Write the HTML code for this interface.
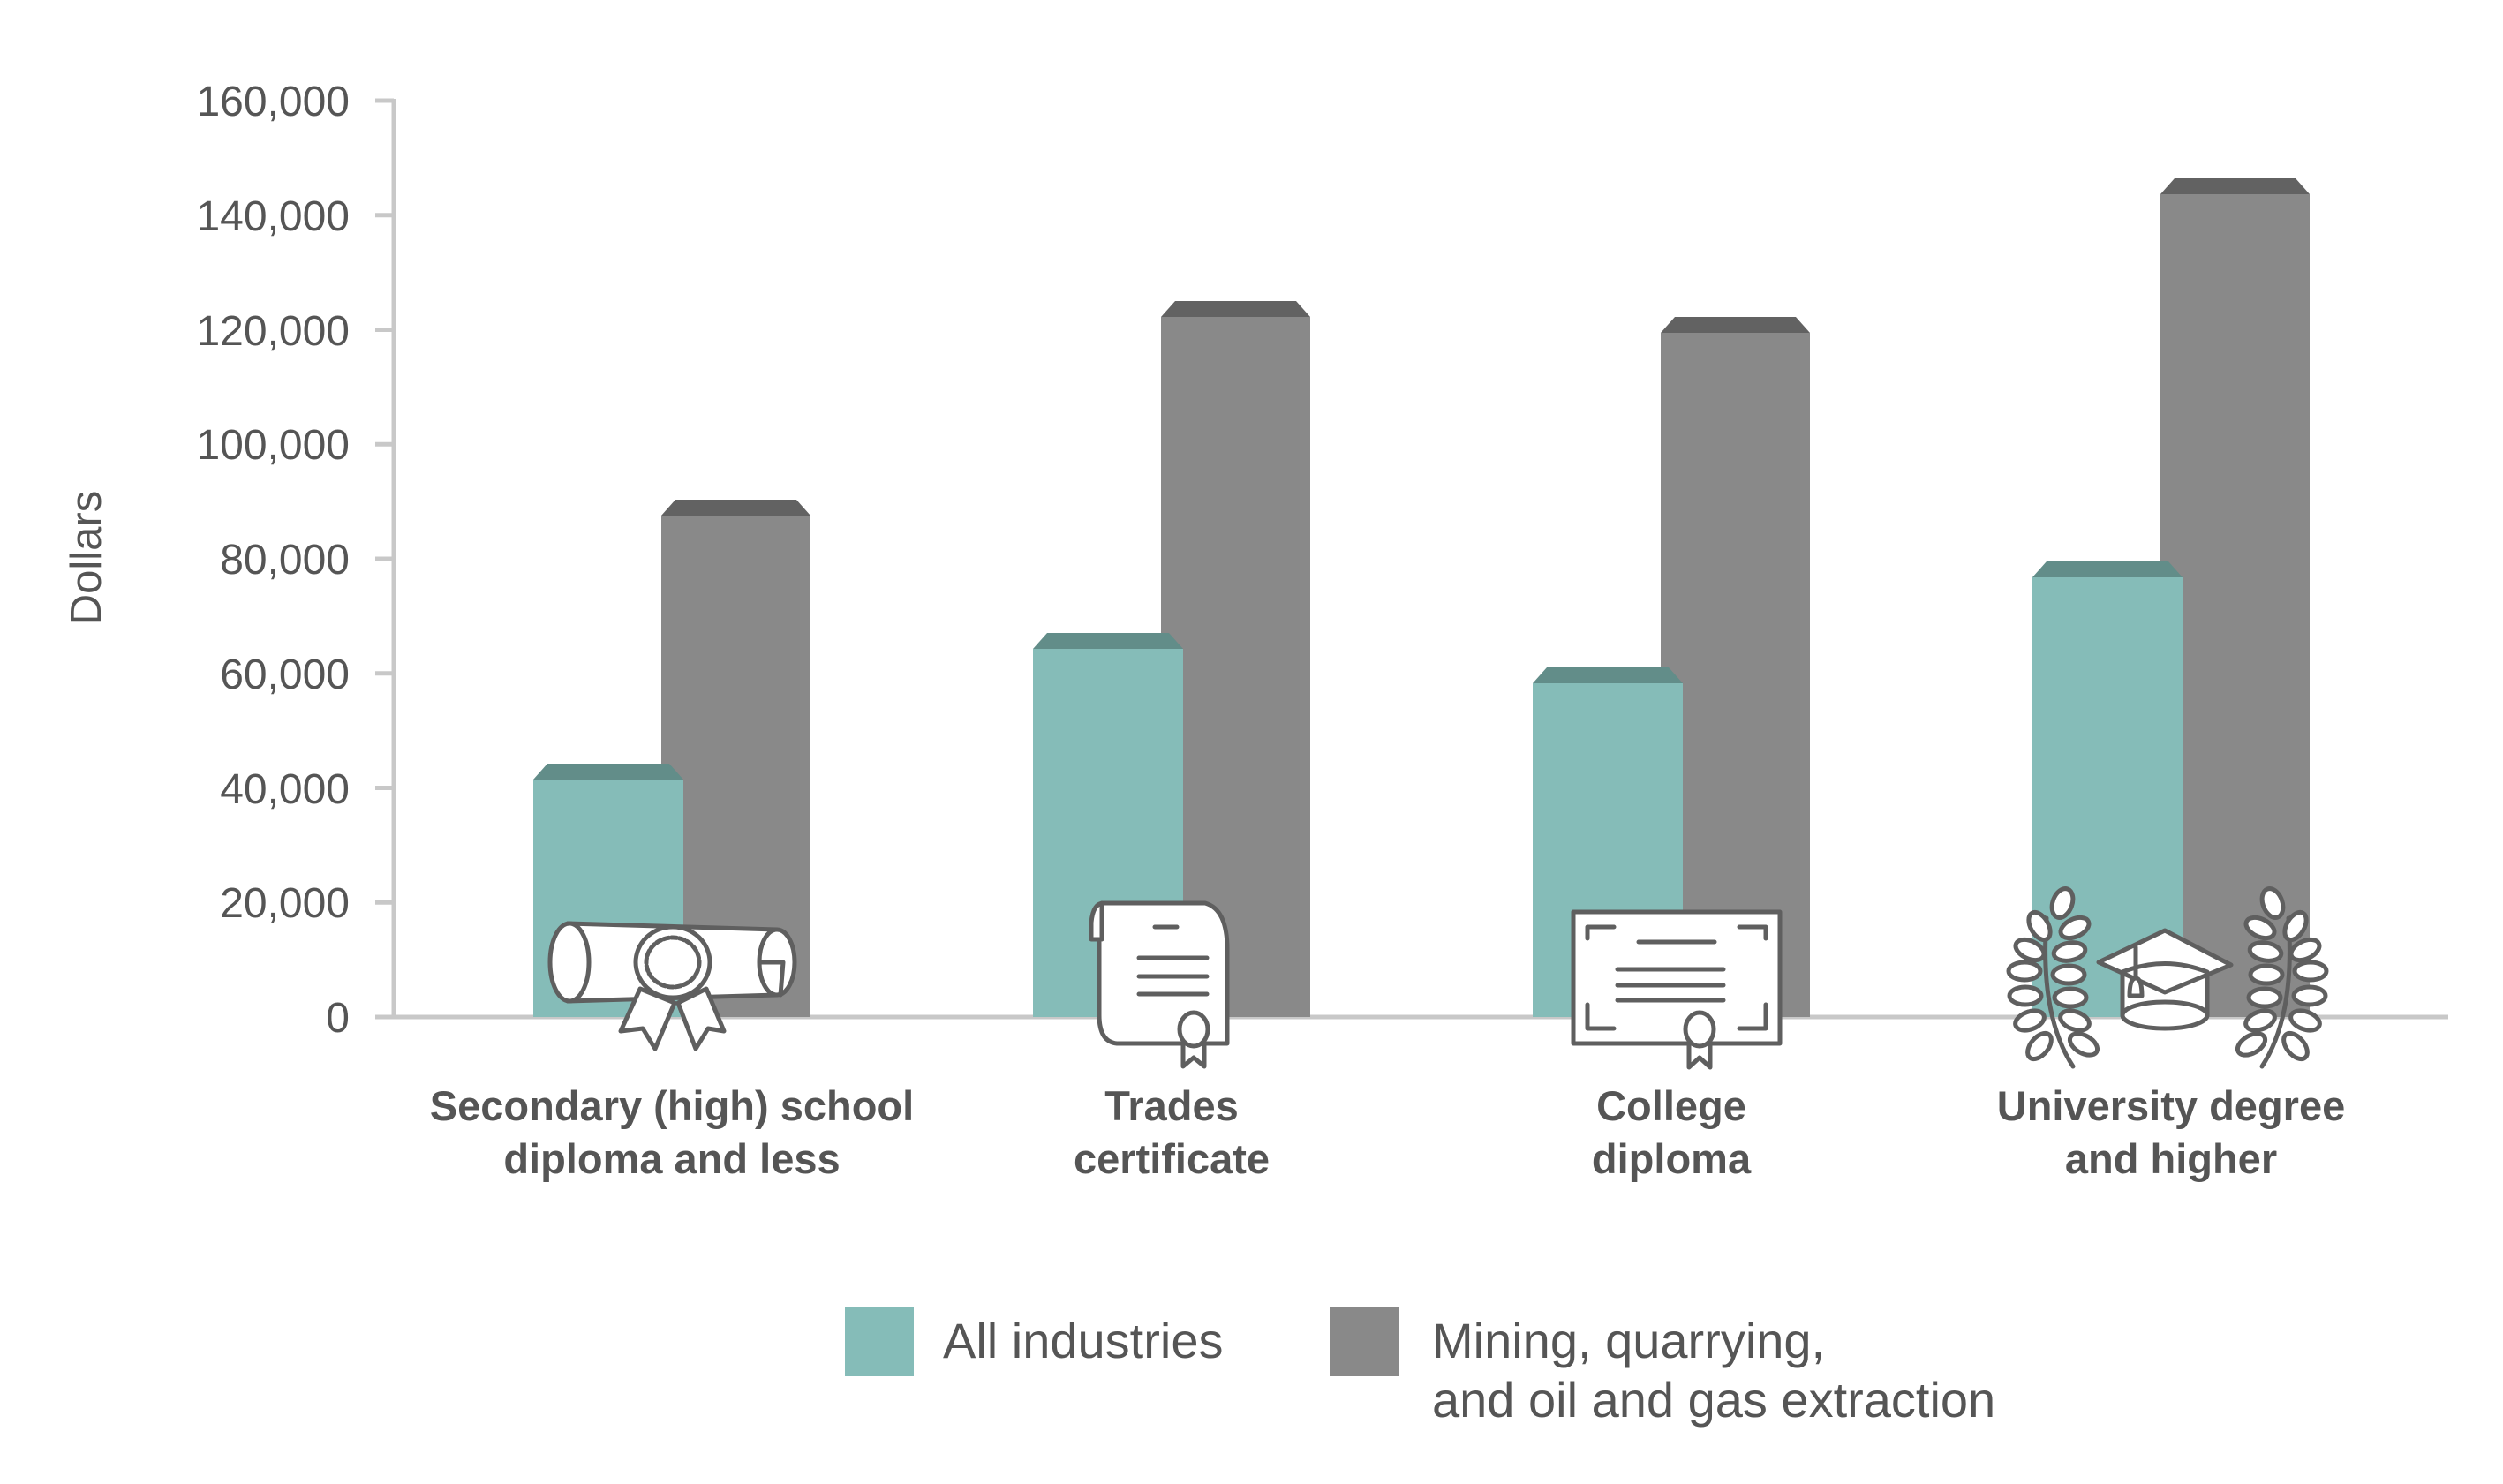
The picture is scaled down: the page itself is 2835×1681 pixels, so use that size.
<!DOCTYPE html>
<html><head><meta charset="utf-8"><style>
html,body{margin:0;padding:0;background:#fff;}
svg{display:block;}
text{font-family:"Liberation Sans",sans-serif;fill:#555;}
</style></head><body>
<svg width="2835" height="1681" viewBox="0 0 2835 1681" xmlns="http://www.w3.org/2000/svg">
<g stroke="#c8c8c8" stroke-width="5" fill="none">
<line x1="446" y1="112" x2="446" y2="1152"/>
<line x1="425" y1="1152" x2="2773" y2="1152"/>
<line x1="425" y1="114" x2="446" y2="114"/>
<line x1="425" y1="243.75" x2="446" y2="243.75"/>
<line x1="425" y1="373.5" x2="446" y2="373.5"/>
<line x1="425" y1="503.25" x2="446" y2="503.25"/>
<line x1="425" y1="633" x2="446" y2="633"/>
<line x1="425" y1="762.75" x2="446" y2="762.75"/>
<line x1="425" y1="892.5" x2="446" y2="892.5"/>
<line x1="425" y1="1022.25" x2="446" y2="1022.25"/>
</g>
<g font-size="48" text-anchor="end">
<text x="396" y="131">160,000</text>
<text x="396" y="261">140,000</text>
<text x="396" y="391">120,000</text>
<text x="396" y="520">100,000</text>
<text x="396" y="650">80,000</text>
<text x="396" y="780">60,000</text>
<text x="396" y="910">40,000</text>
<text x="396" y="1039">20,000</text>
<text x="396" y="1169">0</text>
</g>
<text x="0" y="0" font-size="49" text-anchor="middle" transform="translate(114,632) rotate(-90)">Dollars</text>

<g>
<rect x="749" y="584" width="169" height="568" fill="#898989"/>
<polygon points="749,584 765,566 902,566 918,584" fill="#626262"/>
<rect x="604" y="883" width="170" height="269" fill="#85bcb8"/>
<polygon points="604,883 620,865 758,865 774,883" fill="#628d89"/>
<rect x="1315" y="359" width="169" height="793" fill="#898989"/>
<polygon points="1315,359 1331,341 1468,341 1484,359" fill="#626262"/>
<rect x="1170" y="735" width="170" height="417" fill="#85bcb8"/>
<polygon points="1170,735 1186,717 1324,717 1340,735" fill="#628d89"/>
<rect x="1881" y="377" width="169" height="775" fill="#898989"/>
<polygon points="1881,377 1897,359 2034,359 2050,377" fill="#626262"/>
<rect x="1736" y="774" width="170" height="378" fill="#85bcb8"/>
<polygon points="1736,774 1752,756 1890,756 1906,774" fill="#628d89"/>
<rect x="2447" y="220" width="169" height="932" fill="#898989"/>
<polygon points="2447,220 2463,202 2600,202 2616,220" fill="#626262"/>
<rect x="2302" y="654" width="170" height="498" fill="#85bcb8"/>
<polygon points="2302,654 2318,636 2456,636 2472,654" fill="#628d89"/>
</g>

<g stroke="#5f5f5f" stroke-width="5" fill="#fff" stroke-linejoin="round" stroke-linecap="round">
<path d="M643,1046 L880,1053 L880,1127 L643,1134 Z"/>
<ellipse cx="645" cy="1090" rx="22" ry="44"/>
<ellipse cx="880" cy="1090" rx="20" ry="37"/>
<path d="M862,1090 L887,1090 L884,1127"/>
<polygon points="725,1120 703,1168 728,1165 742,1188 764,1136"/>
<polygon points="768,1136 788,1188 802,1165 820,1168 800,1120"/>
<ellipse cx="762" cy="1090" rx="42" ry="40"/>
<ellipse cx="762" cy="1090" rx="30" ry="28" stroke-dasharray="6 3"/>
<path d="M1250,1023 L1365,1023 Q1390,1030 1390,1075 L1390,1182 L1265,1182 Q1245,1180 1245,1150 L1245,1064 L1236,1064 L1236,1045 Q1238,1023 1250,1023 Z"/>
<line x1="1248" y1="1023" x2="1248" y2="1064"/>
<line x1="1308" y1="1050" x2="1333" y2="1050"/>
<line x1="1290" y1="1085" x2="1367" y2="1085"/>
<line x1="1290" y1="1106" x2="1367" y2="1106"/>
<line x1="1290" y1="1126" x2="1367" y2="1126"/>
<path d="M1340,1180 L1340,1208 L1352,1198 L1364,1208 L1364,1180"/>
<ellipse cx="1352" cy="1166" rx="16" ry="19"/>
<rect x="1782" y="1033" width="234" height="149"/>
<path d="M1798,1063 L1798,1050 L1828,1050 M1970,1050 L2000,1050 L2000,1063 M1798,1138 L1798,1165 L1828,1165 M1970,1165 L2000,1165 L2000,1138" fill="none"/>
<line x1="1856" y1="1067" x2="1942" y2="1067"/>
<line x1="1832" y1="1098" x2="1952" y2="1098"/>
<line x1="1832" y1="1116" x2="1952" y2="1116"/>
<line x1="1832" y1="1133" x2="1952" y2="1133"/>
<path d="M1913,1180 L1913,1209 L1925,1198 L1937,1209 L1937,1180"/>
<ellipse cx="1925" cy="1166" rx="16" ry="19"/>
<path d="M2404,1101 L2404,1150 Q2452,1172 2500,1150 L2500,1101"/>
<ellipse cx="2452" cy="1150" rx="48" ry="15"/>
<polygon points="2377,1090 2452,1054 2527,1093 2452,1124"/>
<path d="M2404,1101 Q2452,1082 2500,1101" fill="none"/>
<line x1="2419" y1="1073" x2="2419" y2="1108"/>
<path d="M2412,1128 Q2412,1108 2419,1108 Q2426,1108 2426,1128 Z"/>
<path d="M2348,1208 Q2310,1150 2318,1040" fill="none"/>
<g>
<ellipse cx="2336" cy="1023" rx="11" ry="17" transform="rotate(20 2336 1023)"/>
<ellipse cx="2310" cy="1049" rx="10" ry="17" transform="rotate(-30 2310 1049)"/>
<ellipse cx="2350" cy="1051" rx="17" ry="10" transform="rotate(-25 2350 1051)"/>
<ellipse cx="2299" cy="1076" rx="17" ry="10" transform="rotate(25 2299 1076)"/>
<ellipse cx="2344" cy="1078" rx="18" ry="10" transform="rotate(-10 2344 1078)"/>
<ellipse cx="2293" cy="1100" rx="18" ry="10"/>
<ellipse cx="2343" cy="1104" rx="18" ry="10"/>
<ellipse cx="2294" cy="1128" rx="18" ry="10"/>
<ellipse cx="2345" cy="1130" rx="18" ry="10"/>
<ellipse cx="2299" cy="1156" rx="17" ry="10" transform="rotate(-20 2299 1156)"/>
<ellipse cx="2350" cy="1156" rx="17" ry="10" transform="rotate(20 2350 1156)"/>
<ellipse cx="2310" cy="1185" rx="10" ry="17" transform="rotate(40 2310 1185)"/>
<ellipse cx="2360" cy="1183" rx="17" ry="10" transform="rotate(30 2360 1183)"/>
</g>
<g transform="translate(4910,0) scale(-1,1)">
<path d="M2348,1208 Q2310,1150 2318,1040" fill="none"/>
<ellipse cx="2336" cy="1023" rx="11" ry="17" transform="rotate(20 2336 1023)"/>
<ellipse cx="2310" cy="1049" rx="10" ry="17" transform="rotate(-30 2310 1049)"/>
<ellipse cx="2350" cy="1051" rx="17" ry="10" transform="rotate(-25 2350 1051)"/>
<ellipse cx="2299" cy="1076" rx="17" ry="10" transform="rotate(25 2299 1076)"/>
<ellipse cx="2344" cy="1078" rx="18" ry="10" transform="rotate(-10 2344 1078)"/>
<ellipse cx="2293" cy="1100" rx="18" ry="10"/>
<ellipse cx="2343" cy="1104" rx="18" ry="10"/>
<ellipse cx="2294" cy="1128" rx="18" ry="10"/>
<ellipse cx="2345" cy="1130" rx="18" ry="10"/>
<ellipse cx="2299" cy="1156" rx="17" ry="10" transform="rotate(-20 2299 1156)"/>
<ellipse cx="2350" cy="1156" rx="17" ry="10" transform="rotate(20 2350 1156)"/>
<ellipse cx="2310" cy="1185" rx="10" ry="17" transform="rotate(40 2310 1185)"/>
<ellipse cx="2360" cy="1183" rx="17" ry="10" transform="rotate(30 2360 1183)"/>
</g>
</g>

<g font-size="47" font-weight="bold" text-anchor="middle">
<text x="761" y="1269">Secondary (high) school</text>
<text x="761" y="1329">diploma and less</text>
<text x="1327" y="1269">Trades</text>
<text x="1327" y="1329">certificate</text>
<text x="1893" y="1269">College</text>
<text x="1893" y="1329">diploma</text>
<text x="2459" y="1269">University degree</text>
<text x="2459" y="1329">and higher</text>
</g>

<rect x="957" y="1481" width="78" height="78" fill="#85bcb8"/>
<text x="1068" y="1538" font-size="56">All industries</text>
<rect x="1506" y="1481" width="78" height="78" fill="#898989"/>
<text x="1622" y="1538" font-size="56">Mining, quarrying,</text>
<text x="1622" y="1605" font-size="56">and oil and gas extraction</text>
</svg>
</body></html>
